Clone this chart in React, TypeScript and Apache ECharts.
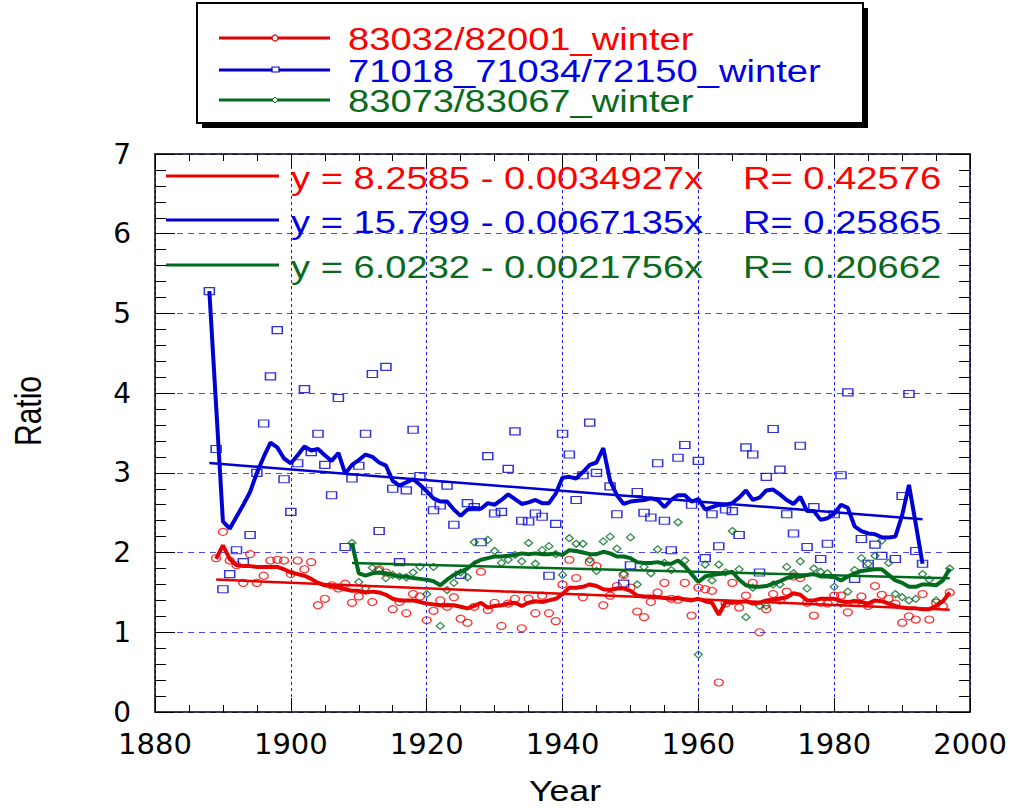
import React, { useEffect, useRef } from "react";
import * as echarts from "echarts";

// ---- data ----
const redStart = 1889;
const redPoints: (number | null)[] = [
  1.93, 2.26, 1.90, 1.84, 1.62, 1.98, 1.62, 1.71, 1.90, 1.91, 1.90, 1.73, 1.90, 1.79, 1.88, 1.34, 1.42, 1.59, 1.55, 1.61,
  1.37, 1.45, null, 1.38, 1.79, 1.75, 1.29, 1.38, 1.24, 1.48, 1.45, 1.15, 1.27, 1.40, 1.32, 1.44, 1.17, 1.12, 1.32, 1.76,
  1.28, 1.37, 1.08, 1.36, 1.42, 1.05, 1.42, 1.24, 1.46, 1.24, 1.14, 1.60, 1.91, 1.68, 1.44, 1.88, 1.83, 1.34, 1.46, 1.58,
  1.72, 1.56, 1.26, 1.19, 1.38, 1.50, 1.62, 1.42, 1.41, 1.62, 1.21, 1.56, 1.54, 1.52, 0.37, 1.36, 1.62, 1.31, 1.46, 1.62,
  1.00, 1.29, 1.48, 1.40, 1.51, 1.70, 1.68, 1.37, 1.21, 1.37, 1.36, 1.46, 1.46, 1.25, 1.37, 1.45, 1.33, 1.58, 1.47, 1.42,
  1.36, 1.12, 1.20, 1.16, 1.48, 1.16, 1.37, 1.33, 1.50,
];
const redSmooth: number[] = [
  1.92, 2.09, 1.92, 1.84, 1.83, 1.83, 1.82, 1.82, 1.82, 1.82, 1.79, 1.75, 1.73, 1.71, 1.67, 1.62, 1.59, 1.58, 1.56, 1.54,
  1.52, 1.52, 1.50, 1.51, 1.50, 1.47, 1.42, 1.40, 1.40, 1.40, 1.38, 1.36, 1.35, 1.34, 1.34, 1.34, 1.32, 1.30, 1.33, 1.37,
  1.31, 1.33, 1.34, 1.36, 1.37, 1.33, 1.37, 1.39, 1.38, 1.40, 1.42, 1.48, 1.56, 1.56, 1.57, 1.60, 1.58, 1.54, 1.53, 1.55,
  1.55, 1.52, 1.46, 1.45, 1.45, 1.44, 1.43, 1.42, 1.43, 1.41, 1.40, 1.42, 1.39, 1.37, 1.22, 1.38, 1.37, 1.38, 1.39, 1.36,
  1.37, 1.40, 1.41, 1.42, 1.44, 1.49, 1.47, 1.40, 1.40, 1.42, 1.42, 1.42, 1.39, 1.38, 1.39, 1.38, 1.36, 1.40, 1.39, 1.36,
  1.33, 1.31, 1.30, 1.30, 1.29, 1.29, 1.33, 1.39, 1.50,
];
const redTrend: number[][] = [[1889, 1.661], [1997, 1.284]];

const blueStart = 1888;
const bluePoints: (number | null)[] = [
  5.28, 3.30, 1.54, 1.73, 2.03, 1.88, 2.22, 3.00, 3.62, 4.21, 4.79, 2.92, 2.51, 3.12, 4.05, 3.26, 3.49, 3.10, 2.72, 3.94,
  2.07, 2.93, 3.09, 3.49, 4.24, 2.27, 4.33, 2.80, 1.88, 2.78, 3.54, 2.96, 2.77, 2.53, 2.59, 2.84, 2.35, 1.72, 2.62, 2.57,
  2.13, 3.21, 2.49, 2.51, 3.05, 3.52, 2.40, 2.39, 2.49, 2.45, 1.71, 2.36, 3.49, 3.23, 2.66, 2.97, 3.63, 3.00, null, 2.83,
  2.48, 1.61, 1.84, 2.76, 2.50, 2.44, 3.12, 2.40, 2.03, 3.19, 3.35, 2.60, 3.15, 1.93, 2.48, 2.08, 2.54, 2.52, 2.22, 3.32,
  3.23, 1.75, 2.95, 3.55, 3.04, 2.48, 2.24, 3.34, 2.07, 2.57, 1.92, 2.11, 2.48, 2.97, 4.01, 1.67, 2.17, 1.86, 2.10, 1.96,
  null, 1.92, 2.71, 3.99, 2.02, 1.86,
];
const blueSmooth: number[] = [
  5.28, 3.84, 2.39, 2.30, 2.45, 2.60, 2.76, 3.00, 3.20, 3.38, 3.32, 3.18, 3.12, 3.22, 3.33, 3.28, 3.30, 3.22, 3.15, 3.25,
  2.99, 3.10, 3.16, 3.23, 3.20, 3.13, 3.09, 2.90, 2.84, 2.88, 2.92, 2.85, 2.77, 2.68, 2.64, 2.64, 2.54, 2.46, 2.54, 2.56,
  2.55, 2.62, 2.60, 2.66, 2.73, 2.67, 2.61, 2.63, 2.66, 2.62, 2.62, 2.74, 2.94, 2.95, 2.93, 3.01, 3.10, 3.13, 3.31, 2.90,
  2.72, 2.61, 2.64, 2.65, 2.66, 2.68, 2.66, 2.57, 2.66, 2.72, 2.72, 2.64, 2.67, 2.54, 2.57, 2.60, 2.60, 2.62, 2.69, 2.78,
  2.66, 2.69, 2.78, 2.79, 2.73, 2.66, 2.61, 2.70, 2.52, 2.52, 2.41, 2.43, 2.49, 2.60, 2.56, 2.33, 2.27, 2.24, 2.23, 2.19,
  2.19, 2.20, 2.47, 2.85, 2.36, 1.86,
];
const blueTrend: number[][] = [[1888, 3.124], [1993, 2.419]];

const greenStart = 1909;
const greenPoints: (number | null)[] = [
  2.12, 1.63, 1.55, 1.81, 1.78, 1.68, 1.72, 1.70, 1.69, 1.75, 1.82, 1.48, 1.82, 1.08, 1.53, 1.62, 1.75, 1.69, 2.13, null,
  2.16, 2.02, 1.87, 1.91, 1.97, 1.89, 2.12, 1.86, 2.03, 2.08, 1.98, 1.72, 2.18, 2.11, 2.11, 1.91, 1.77, 2.14, 2.20, 2.05,
  1.73, 2.19, 1.60, 1.82, 1.74, 2.04, 1.87, 1.78, 2.38, 1.90, null, 0.72, 1.85, 1.65, 1.85, 1.75, 2.27, 1.79, 1.19, 1.56,
  1.33, 1.33, 1.60, 1.60, 1.82, 1.74, 1.89, 1.55, 1.80, 1.76, 1.74, 1.57, 1.36, 1.51, 1.78, 1.93, 1.86, 1.96, 2.15, 1.87,
  1.48, 1.44, 1.40, 1.42, 1.73, 1.66, 1.40, null, 1.80,
];
const greenSmooth: number[] = [
  2.12, 1.74, 1.71, 1.74, 1.75, 1.74, 1.72, 1.70, 1.70, 1.68, 1.67, 1.66, 1.64, 1.59, 1.66, 1.72, 1.76, 1.80, 1.87, 1.91,
  1.93, 1.95, 1.95, 1.96, 1.97, 1.99, 1.98, 1.99, 1.98, 1.98, 1.99, 1.97, 2.03, 2.02, 2.00, 1.98, 1.98, 2.01, 1.99, 1.95,
  1.95, 1.93, 1.88, 1.87, 1.87, 1.88, 1.86, 1.86, 1.90, 1.83, 1.73, 1.63, 1.70, 1.72, 1.73, 1.74, 1.76, 1.66, 1.59, 1.57,
  1.57, 1.58, 1.61, 1.64, 1.68, 1.70, 1.70, 1.72, 1.73, 1.70, 1.70, 1.69, 1.65, 1.70, 1.74, 1.77, 1.78, 1.79, 1.79, 1.72,
  1.65, 1.62, 1.57, 1.57, 1.60, 1.60, 1.59, 1.65, 1.80,
];
const greenTrend: number[][] = [[1909, 1.870], [1997, 1.679]];

const legendNames = ["83032/82001_winter", "71018_71034/72150_winter", "83073/83067_winter"];
const equations = ["y = 8.2585 - 0.0034927x", "y = 15.799 - 0.0067135x", "y = 6.0232 - 0.0021756x"];
const rValues = ["R= 0.42576", "R= 0.25865", "R= 0.20662"];
const xTicks = { min: 1880, max: 2000, step: 20 };
const yTicks = { min: 0, max: 7, step: 1 };

// ---- styles ----
const RED = "#e60000";
const BLUE = "#0000d4";
const GREEN = "#006b1c";
const RED_T = "#ff0000";
const BLUE_T = "#0000e6";
const GREEN_T = "#0a6a1e";
const FONT = "Liberation Sans";
const SX = 1.23;

function pairs(start: number, vals: (number | null)[]) {
  const out: number[][] = [];
  vals.forEach((v, i) => {
    if (v !== null) out.push([start + i, v]);
  });
  return out;
}

function App() {
  const ref = useRef<HTMLDivElement>(null);
  useEffect(() => {
    if (!ref.current) return;
    const chart = echarts.init(ref.current, null, { renderer: "svg" });

    const baseX = {
      type: "value",
      min: xTicks.min,
      max: xTicks.max,
      interval: xTicks.step,
      axisLine: { show: true, onZero: false, lineStyle: { color: "#000", width: 1.5 } },
      axisTick: { show: true, inside: true, length: 14, lineStyle: { color: "#000", width: 1 } },
      minorTick: { show: true, splitNumber: 4, length: 7, lineStyle: { color: "#000", width: 1 } },
    };
    const baseY = {
      type: "value",
      min: yTicks.min,
      max: yTicks.max,
      interval: yTicks.step,
      axisLine: { show: true, onZero: false, lineStyle: { color: "#000", width: 1.5 } },
      axisTick: { show: true, inside: true, length: 20, lineStyle: { color: "#000", width: 1 } },
      minorTick: { show: true, splitNumber: 5, length: 11, lineStyle: { color: "#000", width: 1 } },
    };

    const legendColors = [RED, BLUE, GREEN];
    const legendTextColors = [RED_T, BLUE_T, GREEN_T];
    const legendY = [38, 70, 100];
    const eqY = [176, 220, 265];

    const graphic: any[] = [
      { type: "rect", shape: { x: 202, y: 8, width: 666, height: 120 }, style: { fill: "#000" }, z: 100 },
      { type: "rect", shape: { x: 197, y: 3, width: 666, height: 120 }, style: { fill: "#fff", stroke: "#000", lineWidth: 2 }, z: 101 },
    ];
    legendNames.forEach((name, i) => {
      graphic.push({ type: "line", shape: { x1: 219, y1: legendY[i], x2: 330, y2: legendY[i] }, style: { stroke: legendColors[i], lineWidth: 3 }, z: 102 });
      graphic.push({
        type: "text", x: 348, y: legendY[i] + 1, scaleX: SX, z: 102,
        style: { text: name, fill: legendTextColors[i], fontSize: 31, fontFamily: FONT, verticalAlign: "middle", align: "left" },
      });
    });
    graphic.push({ type: "circle", shape: { cx: 275, cy: legendY[0], r: 3 }, style: { fill: "#fff", stroke: RED, lineWidth: 1.2 }, z: 103 });
    graphic.push({ type: "rect", shape: { x: 272, y: legendY[1] - 3, width: 7, height: 5 }, style: { fill: "#fff", stroke: BLUE, lineWidth: 1.2 }, z: 103 });
    graphic.push({ type: "polygon", shape: { points: [[275, legendY[2] - 3], [278, legendY[2]], [275, legendY[2] + 3], [272, legendY[2]]] }, style: { fill: "#fff", stroke: GREEN, lineWidth: 1 }, z: 103 });

    equations.forEach((eq, i) => {
      graphic.push({ type: "line", shape: { x1: 166, y1: eqY[i], x2: 279, y2: eqY[i] }, style: { stroke: legendColors[i], lineWidth: 3 }, z: 102 });
      graphic.push({
        type: "text", x: 291, y: eqY[i] + 2, scaleX: SX, z: 102,
        style: { text: eq, fill: legendTextColors[i], fontSize: 31, fontFamily: FONT, verticalAlign: "middle", align: "left" },
      });
      graphic.push({
        type: "text", x: 743, y: eqY[i] + 2, scaleX: SX, z: 102,
        style: { text: rValues[i], fill: legendTextColors[i], fontSize: 31, fontFamily: FONT, verticalAlign: "middle", align: "left" },
      });
    });
    graphic.push({
      type: "text", x: 565, y: 791, scaleX: SX, z: 102,
      style: { text: "Year", fill: "#000", fontSize: 29, fontFamily: FONT, verticalAlign: "middle", align: "center" },
    });
    graphic.push({
      type: "text", x: 28, y: 411, rotation: Math.PI / 2, scaleY: SX, z: 102,
      style: { text: "Ratio", fill: "#000", fontSize: 30, fontFamily: FONT, verticalAlign: "middle", align: "center" },
    });

    const scatterStyle = (color: string) => ({ color: "rgba(255,255,255,0)", borderColor: color, borderWidth: 1.3 });

    const option: any = {
      animation: false,
      backgroundColor: "#fff",
      grid: { left: 155, right: 39, top: 154, bottom: 96, show: false },
      xAxis: [
        {
          ...baseX,
          position: "bottom",
          splitLine: { show: true, lineStyle: { color: "#1a1aff", type: [3, 3], width: 1 } },
          axisLabel: { show: true, color: "#000", fontSize: 29, fontFamily: "DejaVu Sans", margin: 17, formatter: (v: number) => String(v) },
        },
        {
          ...baseX,
          position: "top",
          splitLine: { show: false },
          axisLabel: { show: false },
        },
      ],
      yAxis: [
        {
          ...baseY,
          position: "left",
          splitLine: { show: true, lineStyle: { color: "#4a4af0", type: [6, 5], width: 1 } },
          axisLabel: { show: true, color: "#000", fontSize: 28, fontFamily: "DejaVu Sans", margin: 24 },
        },
        {
          ...baseY,
          position: "right",
          splitLine: { show: false },
          axisLabel: { show: false },
        },
      ],
      graphic,
      series: [
        { type: "scatter", data: pairs(redStart, redPoints), symbol: "circle", symbolSize: [9, 7], itemStyle: scatterStyle(RED_T), z: 2 },
        { type: "scatter", data: pairs(blueStart, bluePoints), symbol: "rect", symbolSize: [10, 7], itemStyle: scatterStyle(BLUE), z: 2 },
        { type: "scatter", data: pairs(greenStart, greenPoints), symbol: "diamond", symbolSize: [8, 7], itemStyle: scatterStyle(GREEN), z: 2 },
        { type: "line", data: pairs(redStart, redSmooth), showSymbol: false, lineStyle: { color: RED, width: 4 }, z: 3 },
        { type: "line", data: pairs(blueStart, blueSmooth), showSymbol: false, lineStyle: { color: BLUE, width: 4 }, z: 3 },
        { type: "line", data: pairs(greenStart, greenSmooth), showSymbol: false, lineStyle: { color: GREEN, width: 4 }, z: 3 },
        { type: "line", data: redTrend, showSymbol: false, lineStyle: { color: RED, width: 2.5 }, z: 3 },
        { type: "line", data: blueTrend, showSymbol: false, lineStyle: { color: BLUE, width: 2.5 }, z: 3 },
        { type: "line", data: greenTrend, showSymbol: false, lineStyle: { color: GREEN, width: 2.5 }, z: 3 },
      ],
    };
    chart.setOption(option);
    return () => chart.dispose();
  }, []);
  return <div ref={ref} style={{ position: "fixed", left: 0, top: 0, width: 1010, height: 808, background: "#fff" }} />;
}

export default App;
